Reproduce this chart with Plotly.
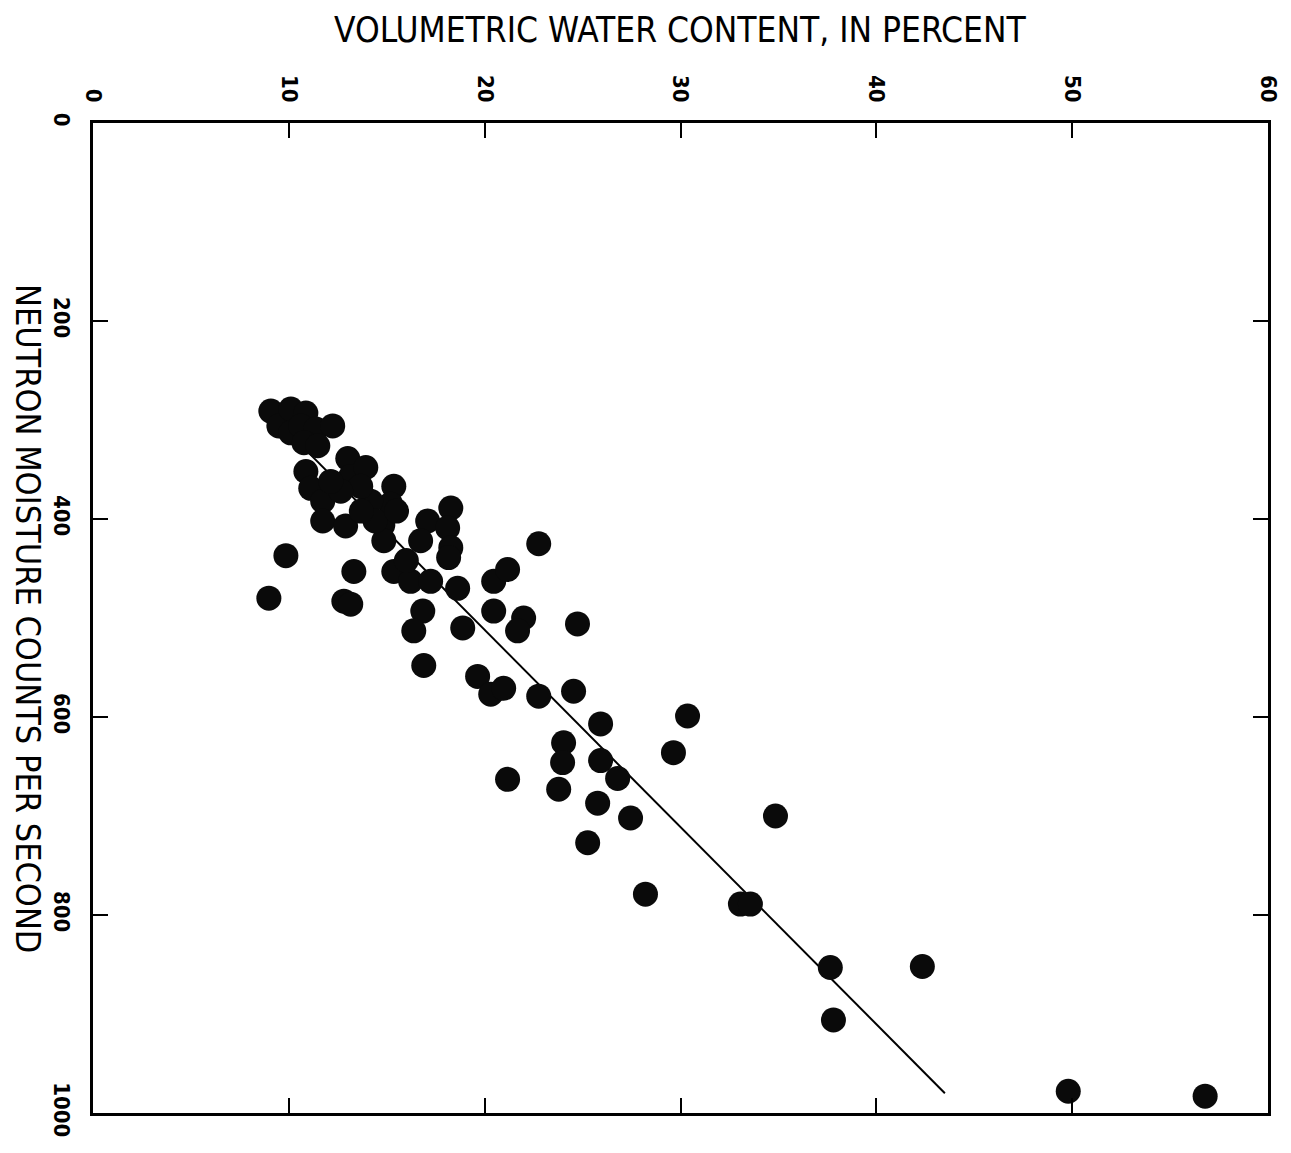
import plotly.graph_objects as go

# Volumetric water content (percent) of each sample
water_content = [
    9.08, 9.49, 10.10, 10.87, 10.10, 10.61, 11.38, 12.24, 10.77, 11.48,
    10.87, 11.12, 11.73, 11.73, 13.01, 13.16, 13.93, 12.90, 15.36, 15.20,
    14.80, 14.85, 17.09, 18.27, 18.11, 18.27, 16.73, 18.16, 13.32, 12.81,
    13.16, 8.98, 9.85, 15.36, 16.22, 17.24, 18.62, 16.84, 16.38, 18.88,
    20.46, 21.17, 22.76, 21.99, 21.68, 20.46, 24.74, 16.89, 19.64, 20.31,
    20.97, 22.76, 24.54, 25.92, 24.03, 23.98, 25.92, 26.79, 21.17, 23.78,
    25.77, 27.45, 25.26, 30.36, 29.64, 34.85, 28.21, 33.06, 33.57, 37.65,
    42.35, 37.81, 49.80, 56.79, 14.18, 13.67, 12.65, 12.14, 14.40, 15.50,
    13.70, 16.00,
]
# Neutron moisture counts per second of each sample
neutron_counts = [
    291, 306, 289, 293, 313, 306, 309, 306, 323, 326,
    352, 369, 382, 402, 339, 357, 348, 407, 367, 385,
    406, 422, 402, 389, 409, 429, 422, 439, 453, 483,
    486, 480, 437, 453, 463, 463, 470, 493, 513, 510,
    463, 451, 425, 500, 513, 493, 506, 548, 559, 577,
    571, 579, 574, 607, 626, 646, 644, 662, 663, 673,
    687, 702, 727, 599, 636, 700, 779, 789, 789, 853,
    852, 906, 978, 983, 382, 367, 372, 362, 402, 392,
    392, 442,
]
# Calibration line end points
fit_x = [8.8, 43.5]
fit_y = [289, 980]

x_ticks = [0, 10, 20, 30, 40, 50, 60]
x_tick_labels = ["0", "10", "20", "30", "40", "50", "60"]
y_ticks = [0, 200, 400, 600, 800, 1000]
y_tick_labels = ["0", "200", "400", "600", "800", "1000"]

FONT = "DejaVu Sans Condensed, Liberation Sans Narrow, Liberation Sans, Arial, sans-serif"

fig = go.Figure()
fig.add_trace(go.Scatter(
    x=fit_x, y=fit_y, mode="lines",
    line=dict(color="black", width=2), showlegend=False, hoverinfo="skip",
))
fig.add_trace(go.Scatter(
    x=water_content, y=neutron_counts, mode="markers",
    marker=dict(color="#0a0a0a", size=25, line=dict(width=0)),
    showlegend=False,
))

axis_common = dict(
    showgrid=False, zeroline=False, showline=True, linecolor="black",
    linewidth=2.5, mirror="ticks", ticks="inside", ticklen=15, tickwidth=2,
    tickcolor="black", tickangle=90, ticklabelstandoff=10,
    tickfont=dict(family=FONT, size=22, color="black", weight="bold"),
)

fig.update_layout(
    width=1291, height=1153,
    margin=dict(l=85, r=31, t=115, b=48),
    paper_bgcolor="white", plot_bgcolor="white",
    xaxis=dict(side="top", range=[0, 60], tickvals=x_ticks,
               ticktext=x_tick_labels, **axis_common),
    yaxis=dict(range=[1000, 0], tickvals=y_ticks, ticktext=y_tick_labels,
               **axis_common),
    annotations=[
        dict(text="VOLUMETRIC WATER CONTENT, IN PERCENT", x=0.5, y=1,
             xref="paper", yref="paper", yshift=93, xanchor="center",
             yanchor="middle", showarrow=False,
             font=dict(family=FONT, size=35, color="black")),
        dict(text="NEUTRON MOISTURE COUNTS PER SECOND", x=0, y=0.5,
             xref="paper", yref="paper", xshift=-65, xanchor="center",
             yanchor="middle", textangle=90, showarrow=False,
             font=dict(family=FONT, size=34, color="black")),
    ],
)

fig.write_html("out.html")
